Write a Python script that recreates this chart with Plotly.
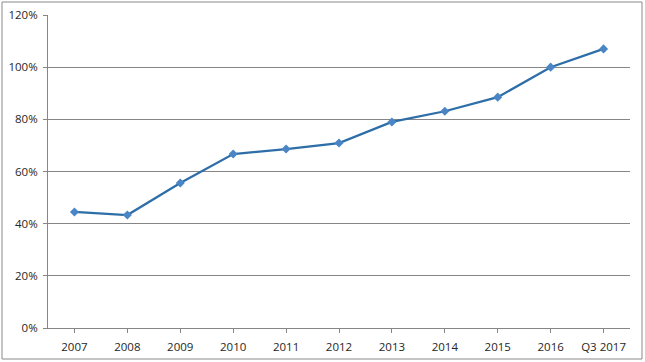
import plotly.graph_objects as go

categories = ["2007", "2008", "2009", "2010", "2011", "2012", "2013", "2014", "2015", "2016", "Q3 2017"]
values = [0.445, 0.433, 0.556, 0.667, 0.686, 0.709, 0.790, 0.831, 0.885, 1.000, 1.070]
y_ticks = [0, 0.2, 0.4, 0.6, 0.8, 1.0, 1.2]
y_tick_labels = ["0%", "20%", "40%", "60%", "80%", "100%", "120%"]

fig = go.Figure()
fig.add_trace(go.Scatter(
    x=list(range(len(categories))), y=values, mode="lines+markers",
    line=dict(color="#2E6EA8", width=2.25),
    marker=dict(symbol="diamond", size=7, color="#4A86C5"),
    showlegend=False,
))

L, R, T, B = 48, 15, 15, 34
pw = 645 - L - R
ph = 362 - T - B

fig.update_layout(
    width=645, height=362,
    margin=dict(l=L, r=R, t=T, b=B, autoexpand=False),
    paper_bgcolor="white", plot_bgcolor="white",
    font=dict(family="Open Sans, Liberation Sans, sans-serif", size=11.5, color="#262626"),
    xaxis=dict(
        tickmode="array", tickvals=list(range(len(categories))), ticktext=categories,
        range=[-0.5, len(categories) - 0.5],
        showgrid=False, showline=True, linecolor="#868686", linewidth=1,
        ticks="outside", ticklen=4, tickcolor="#868686", zeroline=False,
        ticklabelstandoff=4,
    ),
    yaxis=dict(
        tickmode="array", tickvals=y_ticks, ticktext=y_tick_labels,
        range=[0, 1.2],
        showgrid=True, gridcolor="#868686", gridwidth=1,
        showline=True, linecolor="#868686", linewidth=1,
        ticks="outside", ticklen=4, tickcolor="#868686", zeroline=False,
        ticklabelstandoff=3,
    ),
    shapes=[dict(
        type="rect", xref="paper", yref="paper",
        x0=(2 - L) / pw, x1=(642 - L) / pw,
        y0=-(359 - (362 - B)) / ph, y1=((362 - B) - 2) / ph,
        line=dict(color="#898989", width=1), fillcolor="rgba(0,0,0,0)", layer="below",
    )],
)

fig.write_html(
    "out.html",
    config={"displayModeBar": False},
    post_script="document.body.style.margin='0';document.body.style.overflow='hidden';",
)
